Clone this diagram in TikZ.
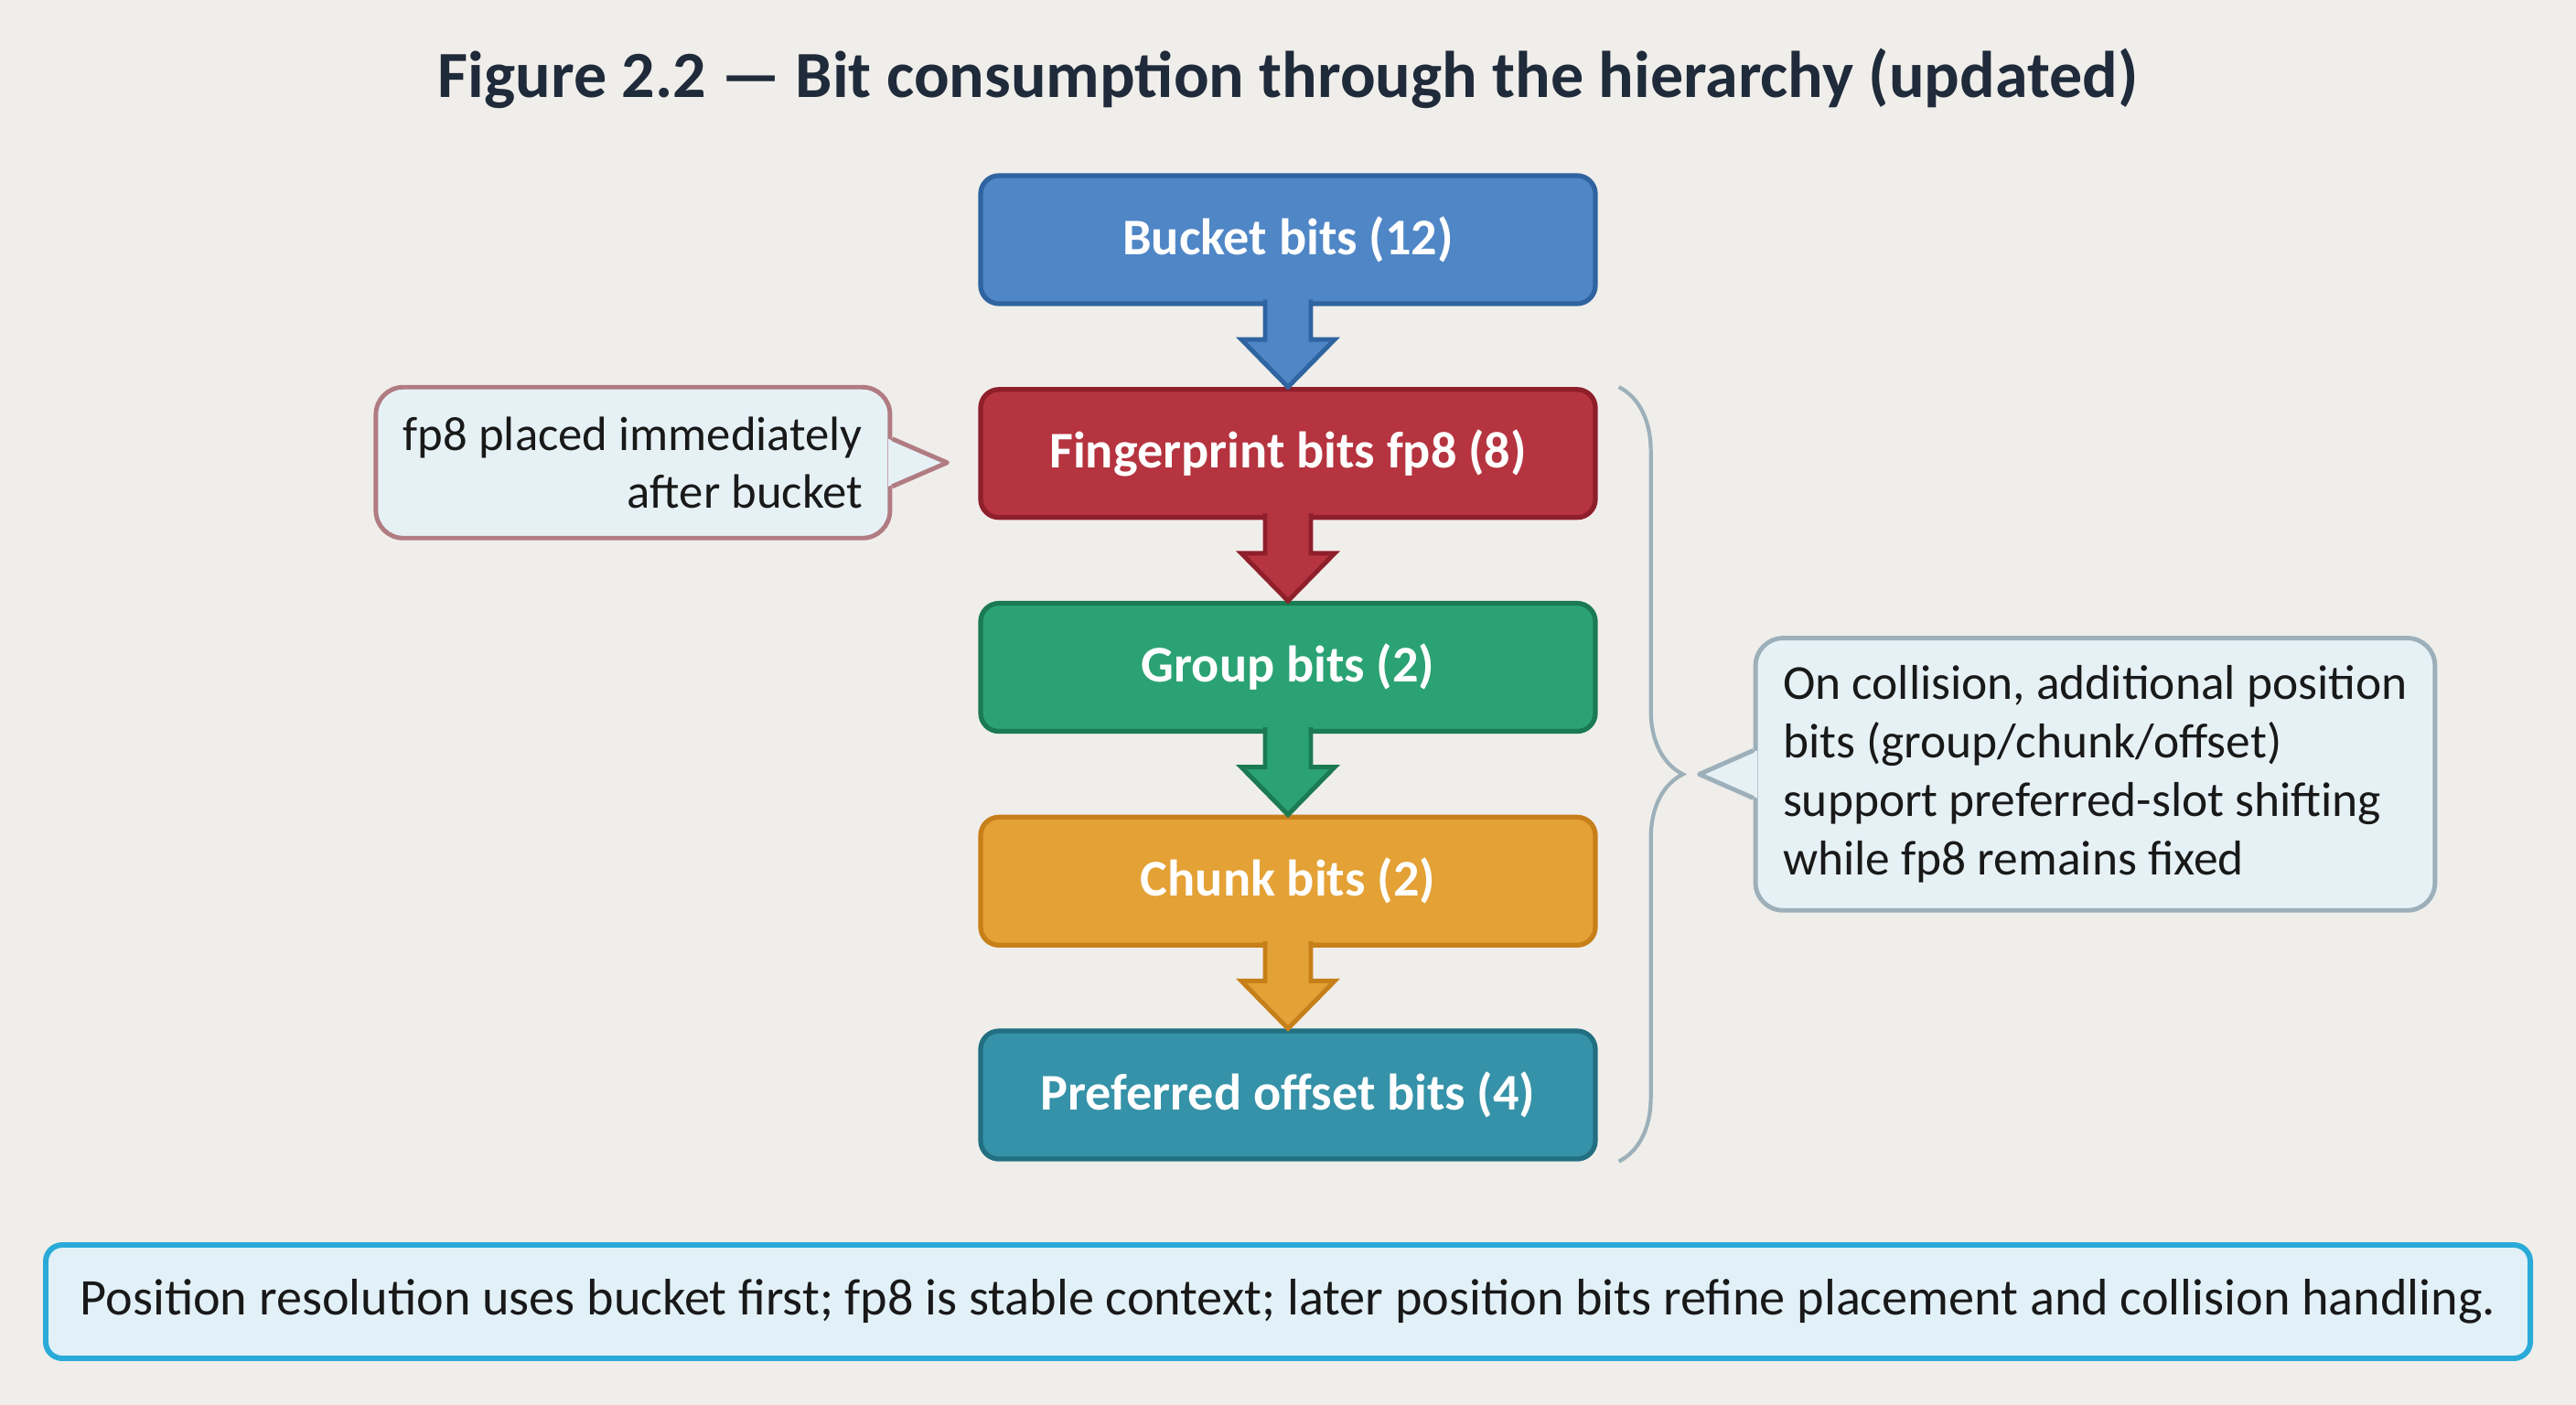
\documentclass[tikz,border=0pt]{standalone}
\usepackage{fontspec}
\setmainfont{Carlito}
\usetikzlibrary{positioning, calc, decorations.pathreplacing}

\definecolor{bg}{HTML}{F0EEEA}
\definecolor{titlecolor}{HTML}{1F2A3A}
\definecolor{fillbucket}{HTML}{4F86C6}
\definecolor{linebucket}{HTML}{2F64A0}
\definecolor{fillfprint}{HTML}{B5343F}
\definecolor{linefprint}{HTML}{8E1F2B}
\definecolor{fillgroup}{HTML}{2BA274}
\definecolor{linegroup}{HTML}{1B7A52}
\definecolor{fillchunk}{HTML}{E4A135}
\definecolor{linechunk}{HTML}{C77F1A}
\definecolor{fillpref}{HTML}{3592A8}
\definecolor{linepref}{HTML}{226F82}
\definecolor{notefill}{HTML}{E6F1F6}
\definecolor{fpnoteline}{HTML}{B07C82}
\definecolor{collnoteline}{HTML}{9DB0BA}
\definecolor{summaryfill}{HTML}{E2F1F8}
\definecolor{summaryline}{HTML}{2AAAD8}

\begin{document}
\begin{tikzpicture}
		[
		font=\fontsize{15}{18}\selectfont,
		block/.style ={rectangle, rounded corners=0.2cm, line width=1.5pt, minimum width=6.72cm, minimum height=1.40cm, align=center, text=white, font=\fontsize{16}{19}\selectfont\bfseries},
		note/.style ={rectangle, rounded corners=0.3cm, fill=notefill, line width=1.4pt, inner sep=0.3cm, text=black!90},
		pointer/.style ={line width=1.4pt, line join=round}
		]
		\fill[bg] (0,0) rectangle (28.16,-15.36);
		\useasboundingbox (0,0) rectangle (28.16,-15.36);
		\node (title) at (14.08,-0.86) [font=\fontsize{20.5}{24}\selectfont\bfseries, text=titlecolor] {Figure 2.2 — Bit consumption through the hierarchy (updated)};
		\node (bucket) at (14.08,-2.62) [block, fill=fillbucket, draw=linebucket] {Bucket bits (12)};
		\node[below= 0.885cm of bucket] (fprint) [block, fill=fillfprint, draw=linefprint] {Fingerprint bits fp8 (8)};
		\node[below= 0.885cm of fprint] (group) [block, fill=fillgroup, draw=linegroup] {Group bits (2)};
		\node[below= 0.885cm of group] (chunk) [block, fill=fillchunk, draw=linechunk] {Chunk bits (2)};
		\node[below= 0.885cm of chunk] (pref) [block, fill=fillpref, draw=linepref] {Preferred offset bits (4)};
		\foreach \a/\b in {bucket/fprint, fprint/group, group/chunk, chunk/pref}
			\filldraw[fill=fill\a, draw=line\a, line width=1.4pt] ([xshift=-0.25cm, yshift=2pt]\a.south) -- ($(\b.north)+(-0.25,0.52)$) -- ($(\b.north)+(-0.51,0.52)$) -- (\b.north) -- ($(\b.north)+(0.51,0.52)$) -- ($(\b.north)+(0.25,0.52)$) -- ([xshift=0.25cm, yshift=2pt]\a.south);
		% left callout
		\node[left= 0.94cm of fprint, yshift=-0.1cm] (fpnote) [note, draw=fpnoteline, align=right, minimum height=1.65cm] {fp8 placed immediately\\after bucket};
		\coordinate (fptip) at ($(fpnote.east)+(0.6,0)$);
		\fill[notefill] ([xshift=-1.2pt, yshift=0.26cm]fpnote.east) -- (fptip) -- ([xshift=-1.2pt, yshift=-0.26cm]fpnote.east) -- cycle;
		\draw[pointer, fpnoteline] ([yshift=0.26cm]fpnote.east) -- (fptip) -- ([yshift=-0.26cm]fpnote.east);
		% brace and right callout
		\draw[collnoteline, line width=1.2pt, decorate, decoration={brace, amplitude=0.7cm, raise=0.23cm}] (fprint.north east) -- (pref.south east);
		\coordinate (brtip) at ($(fprint.north east)!0.5!(pref.south east)+(0.93,0)$);
		\coordinate (colltip) at ($(brtip)+(0.18,0)$);
		\node[right= 0.59cm of colltip] (collnote) [note, draw=collnoteline, align=left, minimum height=2.96cm, font=\fontsize{15.2}{18.2}\selectfont] {On collision, additional position\\bits (group/chunk/offset)\\support preferred-slot shifting\\while fp8 remains fixed};
		\fill[notefill] ([xshift=1.2pt, yshift=0.26cm]collnote.west) -- (colltip) -- ([xshift=1.2pt, yshift=-0.26cm]collnote.west) -- cycle;
		\draw[pointer, collnoteline] ([yshift=0.26cm]collnote.west) -- (colltip) -- ([yshift=-0.26cm]collnote.west);
		\node (summary) at (14.08,-14.23) [rectangle, rounded corners=0.18cm, fill=summaryfill, draw=summaryline, line width=1.7pt, minimum width=27.16cm, minimum height=1.24cm, text=black!90, font=\fontsize{16}{19}\selectfont] {Position resolution uses bucket first; fp8 is stable context; later position bits refine placement and collision handling.};
	\end{tikzpicture}
\end{document}
